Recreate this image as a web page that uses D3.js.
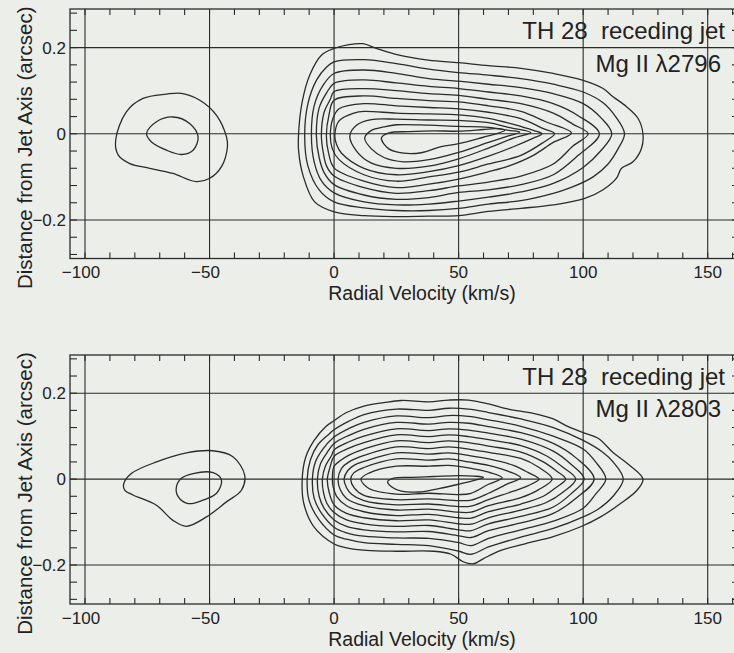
<!DOCTYPE html>
<html>
<head>
<meta charset="utf-8">
<script src="https://cdn.jsdelivr.net/npm/d3@7"></script>
<style>
  html, body { margin: 0; padding: 0; background: #eceee9; }
  svg { display: block; }
  text { font-family: "Liberation Sans", Arial, Helvetica, sans-serif; fill: #222; }
</style>
</head>
<body>
<svg id="chart" width="734" height="653"></svg>
<script>
// Axis ticks and labels
const velTicks = [-100, -50, 0, 50, 100, 150];
const velLabels = ["\u2212100", "\u221250", "0", "50", "100", "150"];
const offTicks = [-0.2, 0, 0.2];
const offLabels = ["\u22120.2", "0", "0.2"];
const velMinorStep = 10;
const offMinorStep = 0.04;

// Panel annotations
const targetLabel = "TH 28  receding jet";
const lineLabels = ["Mg II \u03bb2796", "Mg II \u03bb2803"];

// Contours, outermost first: [radial velocity (km/s), offset from jet axis (arcsec)]
const mg2796Main = [
  [[-14.3,-0.005],[-12.8,0.074],[-9.8,0.136],[-5,0.183],[0,0.198],[6,0.207],[11.6,0.209],[17,0.198],[24.4,0.185],[37.8,0.171],[50,0.165],[62,0.158],[75,0.152],[88,0.14],[100,0.124],[108,0.105],[112,0.086],[117.4,0.063],[122,0.036],[124,0],[123.4,-0.034],[120,-0.065],[115.4,-0.08],[113.4,-0.103],[108,-0.13],[100.7,-0.15],[88,-0.165],[75,-0.173],[62,-0.18],[50,-0.19],[38,-0.191],[25,-0.192],[12,-0.19],[0,-0.181],[-7.8,-0.158],[-12.5,-0.096],[-14.2,-0.042]],
  [[-11.8,-0.005],[-10.5,0.07],[-7,0.125],[-3,0.155],[0,0.167],[12,0.172],[25,0.163],[38,0.15],[50,0.142],[62,0.136],[75,0.128],[88,0.115],[100,0.097],[108,0.072],[113,0.04],[116.6,0],[114,-0.035],[110,-0.07],[104,-0.1],[95,-0.125],[88,-0.138],[75,-0.155],[62,-0.163],[50,-0.173],[38,-0.178],[25,-0.178],[12,-0.172],[0,-0.158],[-6,-0.13],[-10.5,-0.075]],
  [[-9.1,-0.005],[-8,0.065],[-4.5,0.112],[0,0.14],[12,0.148],[25,0.14],[38,0.128],[50,0.122],[62,0.115],[75,0.107],[88,0.093],[100,0.07],[107,0.038],[111.5,0],[107,-0.04],[100,-0.078],[88,-0.115],[75,-0.135],[62,-0.147],[50,-0.156],[38,-0.163],[25,-0.165],[12,-0.158],[0,-0.137],[-5,-0.11],[-8,-0.065]],
  [[-7.1,-0.005],[-6,0.06],[-3,0.095],[0,0.117],[12,0.125],[25,0.118],[38,0.11],[50,0.105],[62,0.097],[75,0.088],[88,0.07],[98,0.042],[106.5,0],[98,-0.05],[88,-0.095],[75,-0.118],[62,-0.13],[50,-0.136],[38,-0.148],[25,-0.152],[12,-0.142],[0,-0.118],[-4,-0.09],[-6,-0.055]],
  [[-5.1,-0.005],[-4,0.05],[-1.5,0.08],[0,0.098],[12,0.105],[25,0.1],[38,0.093],[50,0.089],[62,0.08],[75,0.07],[88,0.048],[96,0.022],[102,0],[96,-0.028],[88,-0.07],[75,-0.098],[62,-0.112],[50,-0.121],[38,-0.132],[25,-0.138],[12,-0.125],[0,-0.098],[-3,-0.075],[-4.3,-0.045]],
  [[-3.1,-0.005],[-2,0.045],[0,0.078],[12,0.088],[25,0.082],[38,0.077],[50,0.074],[62,0.065],[75,0.052],[85,0.028],[95.3,0.002],[88,-0.02],[80,-0.05],[70,-0.075],[62,-0.088],[50,-0.105],[38,-0.117],[25,-0.125],[12,-0.11],[0,-0.079],[-2.2,-0.045]],
  [[-1.5,-0.005],[-0.5,0.035],[2,0.058],[12,0.07],[25,0.065],[38,0.061],[50,0.058],[62,0.05],[75,0.035],[84,0.012],[88.5,0],[84,-0.02],[75,-0.05],[62,-0.07],[50,-0.089],[38,-0.1],[25,-0.11],[12,-0.095],[2,-0.06],[-0.7,-0.035]],
  [[0.3,-0.003],[2,0.03],[8,0.048],[12,0.052],[25,0.048],[38,0.046],[50,0.044],[62,0.036],[72,0.022],[80,0.008],[83.5,0],[80,-0.01],[72,-0.03],[62,-0.052],[50,-0.074],[38,-0.088],[25,-0.095],[12,-0.08],[3,-0.045],[1,-0.025]],
  [[6.3,-0.005],[9,0.02],[15,0.033],[25,0.034],[38,0.032],[50,0.031],[62,0.026],[70,0.015],[79,0.003],[72,-0.01],[62,-0.033],[50,-0.058],[38,-0.075],[25,-0.08],[15,-0.068],[9,-0.04]],
  [[12.3,-0.01],[15,0.008],[20,0.016],[25,0.021],[38,0.02],[50,0.017],[62,0.015],[70,0.008],[74.5,0.004],[70,-0.005],[62,-0.02],[50,-0.043],[38,-0.06],[28,-0.065],[20,-0.055],[15,-0.035]],
  [[19,-0.01],[22,0.002],[30,0.005],[40,0.007],[50,0.006],[60,0.01],[65,0.012],[68.5,0.008],[65,0.0],[60,-0.008],[50,-0.023],[43,-0.03],[35,-0.044],[28,-0.045],[22,-0.035]]
];

const mg2796Knot = [
  [[-87.7,-0.015],[-83.4,0.051],[-76.7,0.082],[-67.3,0.092],[-61.3,0.094],[-53.9,0.078],[-47.2,0.043],[-43.2,-0.007],[-42.8,-0.03],[-45.2,-0.076],[-49.9,-0.103],[-55.3,-0.111],[-64.7,-0.092],[-74,-0.08],[-82,-0.069],[-86.7,-0.049]],
  [[-75.3,0.001],[-71.3,0.028],[-64.7,0.039],[-58,0.024],[-54.6,-0.007],[-56.6,-0.038],[-61.3,-0.048],[-67.3,-0.038],[-73.3,-0.019]]
];

const mg2803Main = [
  [[-12.8,0],[-11.4,0.051],[-8,0.09],[-3.4,0.122],[0,0.136],[5,0.155],[12,0.17],[20,0.178],[27,0.183],[38,0.18],[46,0.184],[54,0.184],[62,0.175],[70,0.163],[80,0.153],[88,0.14],[94,0.122],[100,0.108],[106,0.095],[112,0.062],[118,0.035],[124,0],[121.6,-0.026],[115,-0.057],[107,-0.088],[99,-0.111],[88,-0.134],[77,-0.15],[67,-0.166],[60,-0.185],[56,-0.197],[52,-0.193],[47,-0.175],[40,-0.168],[25,-0.168],[13,-0.166],[5,-0.16],[0,-0.151],[-8,-0.112],[-12.1,-0.058]],
  [[-10.8,0],[-9.5,0.045],[-6.5,0.08],[-2,0.105],[0,0.115],[6,0.135],[12,0.15],[25,0.163],[38,0.16],[46,0.165],[54,0.163],[62,0.155],[75,0.14],[88,0.12],[100,0.09],[108,0.062],[112,0.04],[116.1,0],[112,-0.04],[106,-0.07],[100,-0.088],[88,-0.115],[75,-0.135],[62,-0.158],[55,-0.175],[50,-0.168],[38,-0.155],[25,-0.152],[12,-0.148],[5,-0.14],[0,-0.13],[-6,-0.095],[-10,-0.05]],
  [[-8.7,0],[-7.5,0.04],[-4.5,0.07],[0,0.098],[6,0.118],[12,0.132],[25,0.147],[38,0.143],[46,0.148],[54,0.146],[62,0.138],[75,0.123],[88,0.1],[100,0.07],[105,0.04],[109.1,0],[105,-0.035],[100,-0.068],[88,-0.098],[75,-0.118],[62,-0.138],[55,-0.155],[50,-0.148],[38,-0.138],[25,-0.137],[12,-0.133],[5,-0.125],[0,-0.112],[-5,-0.08],[-8,-0.045]],
  [[-6.7,0],[-5.5,0.035],[-3,0.06],[0,0.083],[6,0.102],[12,0.116],[25,0.132],[38,0.128],[46,0.132],[54,0.13],[62,0.122],[75,0.108],[88,0.083],[97,0.05],[104.4,0],[97,-0.045],[88,-0.08],[75,-0.102],[62,-0.12],[55,-0.136],[50,-0.132],[38,-0.122],[25,-0.123],[12,-0.118],[5,-0.11],[0,-0.095],[-4,-0.068],[-6,-0.04]],
  [[-4.7,0],[-3.5,0.03],[-1,0.055],[0,0.068],[6,0.087],[12,0.1],[25,0.117],[38,0.113],[46,0.117],[54,0.114],[62,0.107],[75,0.093],[88,0.065],[95,0.035],[100.4,0],[95,-0.035],[88,-0.065],[75,-0.087],[62,-0.104],[55,-0.12],[50,-0.118],[38,-0.108],[25,-0.11],[12,-0.104],[5,-0.095],[0,-0.078],[-3,-0.055],[-4.3,-0.03]],
  [[-2.7,0],[-1.5,0.03],[0,0.053],[6,0.072],[12,0.085],[25,0.103],[38,0.099],[46,0.103],[54,0.099],[62,0.092],[75,0.078],[85,0.055],[92,0.027],[97,0],[92,-0.03],[85,-0.055],[75,-0.072],[62,-0.09],[55,-0.105],[50,-0.104],[38,-0.095],[25,-0.097],[12,-0.09],[5,-0.08],[0,-0.06],[-2,-0.03]],
  [[-0.7,0],[0,0.03],[3,0.045],[6,0.056],[12,0.07],[25,0.089],[38,0.085],[46,0.089],[54,0.085],[62,0.077],[75,0.063],[84,0.04],[89,0.02],[93,0],[89,-0.02],[84,-0.04],[75,-0.058],[62,-0.076],[55,-0.091],[50,-0.09],[38,-0.082],[25,-0.085],[12,-0.076],[5,-0.062],[1,-0.04],[-0.3,-0.02]],
  [[1.6,0],[3,0.025],[6,0.04],[12,0.055],[25,0.075],[38,0.071],[46,0.075],[54,0.07],[62,0.062],[75,0.048],[82,0.028],[87.6,0],[82,-0.025],[75,-0.043],[62,-0.062],[55,-0.077],[50,-0.077],[38,-0.07],[25,-0.072],[12,-0.062],[5,-0.045],[2.5,-0.025]],
  [[4,0],[5.5,0.02],[8,0.032],[12,0.041],[25,0.061],[38,0.058],[46,0.061],[54,0.055],[62,0.047],[72,0.032],[78,0.015],[82.3,0],[78,-0.015],[72,-0.028],[62,-0.048],[55,-0.063],[50,-0.064],[38,-0.058],[25,-0.06],[12,-0.05],[7,-0.035],[5,-0.02]],
  [[6.7,0],[8,0.015],[12,0.027],[25,0.047],[38,0.044],[46,0.047],[54,0.04],[62,0.032],[70,0.018],[74.9,0.003],[70,-0.01],[62,-0.033],[55,-0.049],[50,-0.05],[38,-0.046],[25,-0.048],[12,-0.038],[8,-0.02]],
  [[10.8,0],[14,0.014],[25,0.03],[38,0.03],[46,0.032],[54,0.026],[62,0.016],[67.5,0.003],[62,-0.012],[55,-0.033],[50,-0.036],[38,-0.033],[25,-0.035],[14,-0.022]],
  [[21.5,-0.006],[24,0.002],[30,0.004],[40,0.006],[50,0.008],[56,0.007],[60,0.004],[57,-0.002],[50,-0.012],[42,-0.022],[34,-0.03],[27,-0.028],[23,-0.018]]
];

const mg2803Knot = [
  [[-84.5,-0.012],[-81.4,0.013],[-71.3,0.04],[-59.3,0.061],[-48.6,0.066],[-40.6,0.052],[-35.9,0.009],[-37.2,-0.026],[-43.2,-0.053],[-51.2,-0.088],[-59.3,-0.11],[-64.7,-0.096],[-71.3,-0.061],[-80.7,-0.037],[-84,-0.026]],
  [[-63.3,-0.018],[-61.3,0.002],[-56.6,0.013],[-48.6,0.015],[-45.2,-0.002],[-47.2,-0.033],[-52.6,-0.049],[-58.6,-0.057],[-62.6,-0.041]]
];

const svg = d3.select("#chart");
const ink = "#2b2b2b";

const panels = [
  { main: mg2796Main, knot: mg2796Knot, label: lineLabels[0],
    yRange: [220, 47.6], top: 9, bottom: 258.5, labelBase: [39, 72] },
  { main: mg2803Main, knot: mg2803Knot, label: lineLabels[1],
    yRange: [565, 393.2], top: 355, bottom: 604, labelBase: [385, 417] }
];

const x = d3.scaleLinear().domain([-100, 150]).range([85, 707.7]);
const left = 70, right = 739;
const velMin = x.invert(left), velMax = x.invert(right);

panels.forEach((p, i) => {
  const y = d3.scaleLinear().domain([-0.2, 0.2]).range(p.yRange);
  const offMin = y.invert(p.bottom), offMax = y.invert(p.top);
  const g = svg.append("g");

  const clipId = "clip" + i;
  svg.append("clipPath").attr("id", clipId)
    .append("rect").attr("x", left).attr("y", p.top)
    .attr("width", right - left).attr("height", p.bottom - p.top);

  // grid lines at the major ticks
  g.selectAll("line.vgrid").data(velTicks).join("line")
    .attr("x1", d => x(d)).attr("x2", d => x(d))
    .attr("y1", p.top).attr("y2", p.bottom)
    .attr("stroke", ink).attr("stroke-width", 1.1);
  g.selectAll("line.hgrid").data(offTicks).join("line")
    .attr("x1", left).attr("x2", right)
    .attr("y1", d => y(d)).attr("y2", d => y(d))
    .attr("stroke", ink).attr("stroke-width", 1.1);

  // minor ticks on all four sides
  const vMinor = d3.range(Math.ceil(velMin / velMinorStep) * velMinorStep, velMax, velMinorStep);
  const oMinor = d3.range(Math.ceil(offMin / offMinorStep), Math.floor(offMax / offMinorStep) + 1)
    .map(k => k * offMinorStep);
  const tickG = g.append("g").attr("stroke", ink).attr("stroke-width", 1.1);
  vMinor.forEach(v => {
    tickG.append("line").attr("x1", x(v)).attr("x2", x(v)).attr("y1", p.top).attr("y2", p.top + 6);
    tickG.append("line").attr("x1", x(v)).attr("x2", x(v)).attr("y1", p.bottom).attr("y2", p.bottom - 6);
  });
  oMinor.forEach(o => {
    tickG.append("line").attr("x1", left).attr("x2", left + 7).attr("y1", y(o)).attr("y2", y(o));
    tickG.append("line").attr("x1", right).attr("x2", right - 7).attr("y1", y(o)).attr("y2", y(o));
  });

  // contours
  const line = d3.line()
    .x(d => x(d[0])).y(d => y(d[1]))
    .curve(d3.curveCatmullRomClosed.alpha(0.5));
  const cg = g.append("g").attr("clip-path", `url(#${clipId})`)
    .attr("fill", "none").attr("stroke", ink).attr("stroke-width", 1.3)
    .attr("stroke-linejoin", "round");
  cg.selectAll("path.main").data(p.main).join("path").attr("d", line);
  cg.selectAll("path.knot").data(p.knot).join("path").attr("class", "knot").attr("d", line);

  // frame
  g.append("rect").attr("x", left).attr("y", p.top)
    .attr("width", right - left).attr("height", p.bottom - p.top)
    .attr("fill", "none").attr("stroke", ink).attr("stroke-width", 1.3);

  // tick labels (negative labels sit slightly left of their tick)
  g.selectAll("text.vlab").data(velTicks).join("text")
    .attr("x", d => x(d) + (d < 0 ? -4 : 0)).attr("y", p.bottom + 19.5)
    .attr("text-anchor", "middle").attr("font-size", 17)
    .text((d, k) => velLabels[k]);
  g.selectAll("text.olab").data(offTicks).join("text")
    .attr("x", 66).attr("y", d => y(d) + 6)
    .attr("text-anchor", "end").attr("font-size", 17)
    .text((d, k) => offLabels[k]);

  // axis titles
  g.append("text").attr("x", 422).attr("y", p.bottom + 41.5)
    .attr("text-anchor", "middle").attr("font-size", 19.5)
    .text("Radial Velocity (km/s)");
  const cy = (p.top + p.bottom) / 2 + 14;
  g.append("text")
    .attr("transform", `translate(32,${cy}) rotate(-90)`)
    .attr("text-anchor", "middle").attr("font-size", 20.5)
    .text("Distance from Jet Axis (arcsec)");

  // annotations
  g.append("text").attr("x", 725).attr("y", p.labelBase[0])
    .attr("text-anchor", "end").attr("font-size", 24)
    .style("white-space", "pre")
    .text(targetLabel);
  g.append("text").attr("x", 721).attr("y", p.labelBase[1])
    .attr("text-anchor", "end").attr("font-size", 24)
    .text(p.label);
});
</script>
</body>
</html>
